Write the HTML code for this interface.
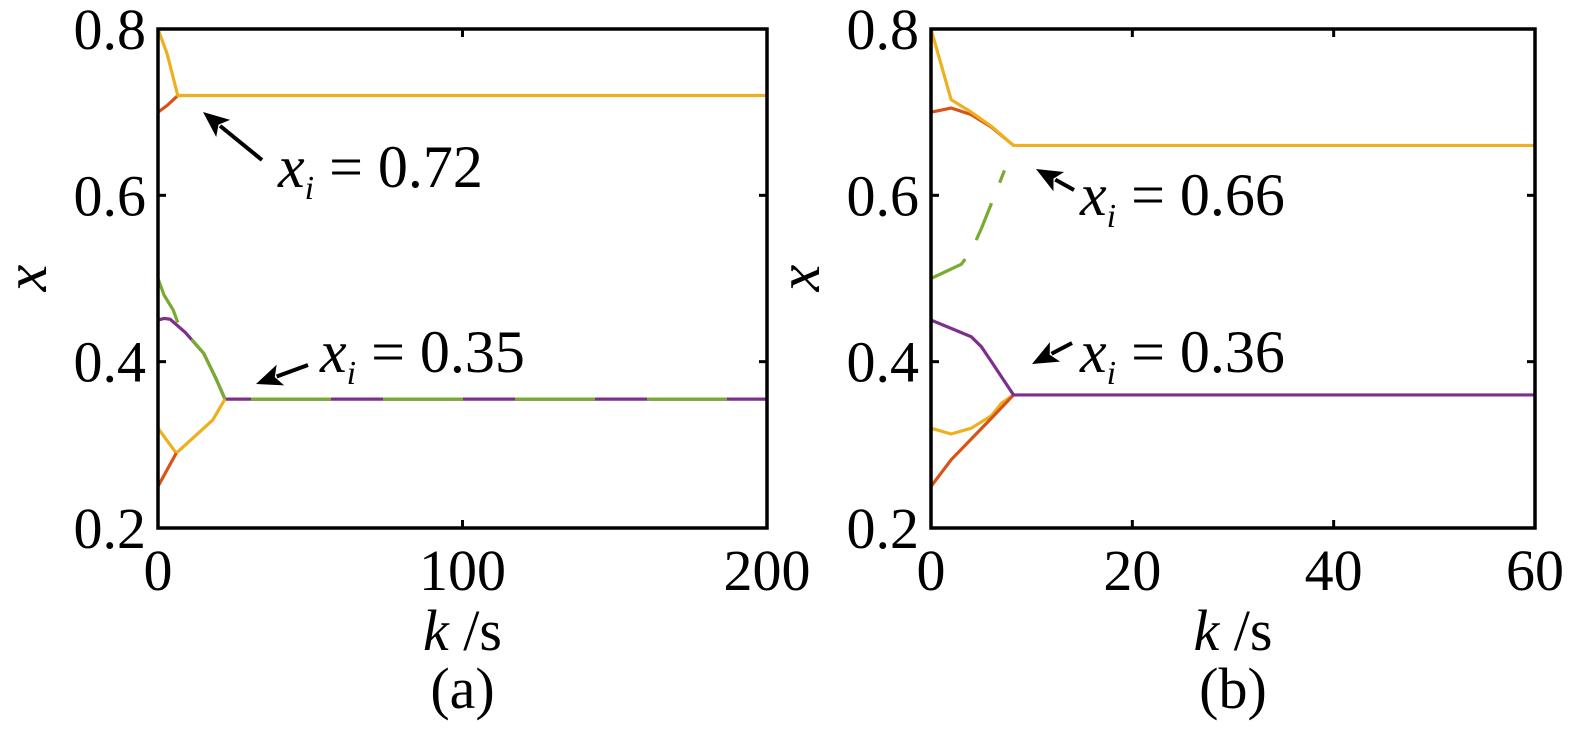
<!DOCTYPE html>
<html><head><meta charset="utf-8"><style>
html,body{margin:0;padding:0;background:#fff;}
svg{display:block;font-family:"Liberation Serif",serif;}
</style></head><body>
<svg id="chart" width="1575" height="744" viewBox="0 0 1575 744" xmlns="http://www.w3.org/2000/svg"></svg>
<script>
const yTicks=[0.2,0.4,0.6,0.8];
const yTickLabels=["0.2","0.4","0.6","0.8"];
const aXTicks=[0,100,200];
const bXTicks=[0,20,40,60];
// panel a series
const aK1=[0,3,6.5,200]; const aYellowTop=[0.8,0.77,0.72,0.72];
const aK2=[0,3,6.5]; const aRedTop=[0.7,0.708,0.72];
const aK4=[0,2,4,9,15,19,22,200]; const aPurple=[0.45,0.452,0.451,0.435,0.41,0.38,0.355,0.355];
const aK3a=[0,2,5,6.5]; const aGreenA=[0.5,0.48,0.462,0.447];
const aK3b=[11,15,19,22]; const aGreenB=[0.427,0.41,0.38,0.355];
const aK3c=[22,200]; const aGreenC=[0.355,0.355];
const aK5=[0,3,6,12,18,22]; const aYellowLow=[0.32,0.305,0.29,0.31,0.33,0.355];
const aK6=[0,3,6]; const aRedLow=[0.25,0.27,0.29];
// panel b series
const bK1=[0,2,4,6,8.2,60]; const bYellowTop=[0.8,0.715,0.7,0.683,0.66,0.66];
const bK2=[0,2,4,6,8.2]; const bRedTop=[0.7,0.705,0.697,0.682,0.66];
const bK3=[0,3,4,5,6,7.3]; const bGreen=[0.5,0.517,0.533,0.56,0.59,0.63];
const bK4=[0,2,4,5,6,8.2,60]; const bPurple=[0.45,0.44,0.43,0.418,0.4,0.36,0.36];
const bK5=[0,2,4,6,7,8.2]; const bYellowLow=[0.32,0.313,0.32,0.335,0.35,0.36];
const bK6=[0,2,4,6,8.2]; const bRedLow=[0.25,0.282,0.307,0.332,0.36];

const NS="http://www.w3.org/2000/svg";
const svg=document.getElementById('chart');
function mk(tag,attrs,parent){const e=document.createElementNS(NS,tag);for(const k in attrs)e.setAttribute(k,attrs[k]);(parent||svg).appendChild(e);return e;}
const C={y:"#EDB120",r:"#D95319",g:"#77AC30",p:"#7E2F8E"};
function panel(id,x0,x1,xmax,xt,label,series,annots){
  const top=29,bot=528;
  const g=mk('g',{});
  
  
  const sx=v=>x0+(v/xmax)*(x1-x0);
  const sy=v=>bot-(v-0.2)/0.6*(bot-top);
  series.forEach(s=>{
    const pts=s.k.map((k,i)=>sx(k)+','+sy(s.v[i])).join(' ');
    const l=mk('polyline',{points:pts,fill:'none',stroke:s.c,'stroke-width':3.2,'stroke-linejoin':'round'},g);
    if(s.dash)l.setAttribute('stroke-dasharray',s.dash);
    
    
  });
  const fr=mk('rect',{x:x0,y:top,width:x1-x0,height:bot-top,fill:'none',stroke:'#000','stroke-width':3.5},g);
  
  
  yTicks.forEach((t,i)=>{
    mk('line',{x1:x0,x2:x0+8,y1:sy(t),y2:sy(t),stroke:'#000','stroke-width':3},g);
    mk('line',{x1:x1,x2:x1-8,y1:sy(t),y2:sy(t),stroke:'#000','stroke-width':3},g);
    const tx=mk('text',{x:x0-12,y:sy(t)+20,'font-size':58,'text-anchor':'end'},g);
    tx.textContent=yTickLabels[i];
    
    
  });
  xt.forEach(t=>{
    mk('line',{x1:sx(t),x2:sx(t),y1:bot,y2:bot-8,stroke:'#000','stroke-width':3},g);
    mk('line',{x1:sx(t),x2:sx(t),y1:top,y2:top+8,stroke:'#000','stroke-width':3},g);
    const tx=mk('text',{x:sx(t),y:590,'font-size':58,'text-anchor':'middle'},g);
    tx.textContent=String(t);
    
    
  });
  const yl=mk('text',{x:x0-112,y:278,'font-size':60,'font-style':'italic','text-anchor':'middle',transform:`rotate(-90 ${x0-112} 278)`},g);
  yl.textContent='x';
  
  
  const xl=mk('text',{x:(x0+x1)/2,y:650,'font-size':58,'text-anchor':'middle'},g);
  xl.innerHTML='<tspan font-style="italic">k</tspan> /s';
  
  
  const cl=mk('text',{x:(x0+x1)/2,y:708,'font-size':58,'text-anchor':'middle'},g);
  cl.textContent=label;
  
  
  annots.forEach(a=>{
    const ag=mk('g',{},g);
    
    
    const dx=a.x2-a.x1,dy=a.y2-a.y1,L=Math.hypot(dx,dy),ux=dx/L,uy=dy/L;
    const bx=a.x2-ux*26,by=a.y2-uy*26;
    mk('line',{x1:a.x1,y1:a.y1,x2:bx+ux*4,y2:by+uy*4,stroke:'#000','stroke-width':4},ag);
    mk('polygon',{points:`${a.x2},${a.y2} ${bx-uy*11},${by+ux*11} ${bx+ux*6},${by+uy*6} ${bx+uy*11},${by-ux*11}`,fill:'#000'},ag);
    const t=mk('text',{x:a.tx,y:a.ty,'font-size':60},ag);
    t.innerHTML='<tspan font-style="italic">x</tspan><tspan font-style="italic" font-size="34" dy="12">i</tspan><tspan dy="-12"> = '+a.v+'</tspan>';
  });
}
panel('a',158,767,200,aXTicks,'(a)',[
  {k:aK4,v:aPurple,c:C.p,n:'purple'},
  {k:aK3a,v:aGreenA,c:C.g,n:'green-start'},
  {k:aK3b,v:aGreenB,c:C.g,n:'green-mid'},
  {k:aK3c,v:aGreenC,c:C.g,n:'green-flat',dash:'0 26 80 26'},
  {k:aK5,v:aYellowLow,c:C.y,n:'yellow-low'},
  {k:aK6,v:aRedLow,c:C.r,n:'red-low'},
  {k:aK2,v:aRedTop,c:C.r,n:'red-top'},
  {k:aK1,v:aYellowTop,c:C.y,n:'yellow-top'}
],[{x1:262,y1:160,x2:203,y2:112,tx:278,ty:187,v:'0.72'},{x1:308,y1:365,x2:256,y2:384,tx:320,ty:372,v:'0.35'}]);
panel('b',931,1535,60,bXTicks,'(b)',[
  {k:bK3,v:bGreen,c:C.g,n:'green',dash:'40 22'},
  {k:bK5,v:bYellowLow,c:C.y,n:'yellow-low'},
  {k:bK6,v:bRedLow,c:C.r,n:'red-low'},
  {k:bK4,v:bPurple,c:C.p,n:'purple'},
  {k:bK2,v:bRedTop,c:C.r,n:'red-top'},
  {k:bK1,v:bYellowTop,c:C.y,n:'yellow-top'}
],[{x1:1074,y1:190,x2:1036,y2:169,tx:1080,ty:215,v:'0.66'},{x1:1072,y1:343,x2:1032,y2:364,tx:1080,ty:372,v:'0.36'}]);
</script>
</body></html>
